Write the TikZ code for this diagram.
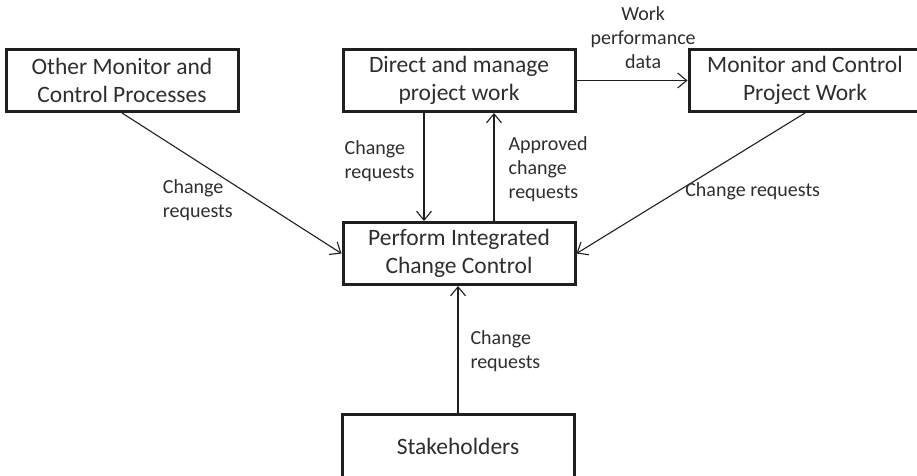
\documentclass[tikz,border=0pt]{standalone}
\usepackage{fontspec}
\setmainfont{Carlito}
\usetikzlibrary{positioning, arrows.meta}

\begin{document}
\begin{tikzpicture}[
  x=1pt, y=1pt,
  box/.style={draw=black!88, line width=3pt, minimum width=232pt, minimum height=62pt,
              align=center, text=black!82, inner sep=2pt,
              font=\fontsize{23.5}{28.2}\selectfont},
  arr/.style={-{Straight Barb[length=9pt, width=15pt]}, line width=1.1pt, color=black!88},
  lbl/.style={font=\fontsize{20}{24}\selectfont, text=black!82, inner sep=2pt},
]
\clip (0,0) rectangle (917,475);

% ===== TOP ROW =====
\node[box] (m2) at (459,394.5) {Direct and manage\\project work};
\node[box, left=102pt of m2] (m1) {Other Monitor and\\Control Processes};
\node[box, right=111pt of m2] (m3) {Monitor and Control\\Project Work};

% ===== CENTRE AND BOTTOM =====
\node[box, below=108pt of m2] (m4) {Perform Integrated\\Change Control};
\node[box, below=127pt of m4, xshift=-1pt, minimum height=64pt] (m5) {Stakeholders};

% ===== ARROWS =====
% work data to monitoring
\draw[arr] (m2.east) -- node[lbl, above=9pt, pos=0.6, align=center] {Work\\performance\\data} (m3.west);

% between direct/manage and change control
\draw[arr] ([xshift=-35pt]m2.south) -- node[lbl, left=7pt, pos=0.45, align=left] {Change\\requests} ([xshift=-35pt]m4.north);
\draw[arr] ([xshift=35pt]m4.north) -- node[lbl, right=12pt, pos=0.48, align=left] {Approved\\change\\requests} ([xshift=35pt]m2.south);

% side inputs
\draw[arr] (m1.south) -- node[lbl, anchor=north east, pos=0.47, xshift=10pt, yshift=2pt, align=left] {Change\\requests} (m4.west);
\draw[arr] (m3.south) -- node[lbl, anchor=north west, pos=0.5, xshift=-8pt, yshift=3pt] {Change requests} (m4.east);

% from stakeholders
\draw[arr] (m5.north) -- node[lbl, right=10pt, pos=0.49, align=left] {Change\\requests} (m5.north |- m4.south);

\end{tikzpicture}
\end{document}
